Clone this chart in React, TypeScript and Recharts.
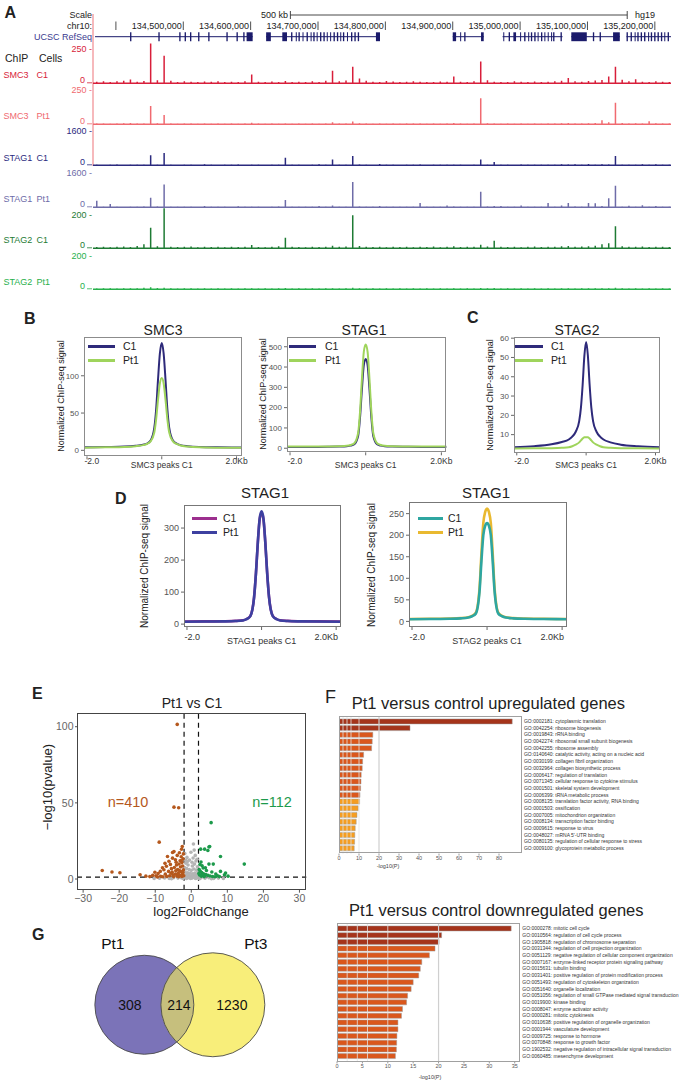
import React from "react";
import {
  BarChart,
  Bar,
  Cell,
  XAxis,
  YAxis,
  LineChart,
  Line,
  ScatterChart,
  Scatter,
  ReferenceLine,
  ReferenceArea,
} from "recharts";

const FONT = "'Liberation Sans', Arial, Helvetica, sans-serif";

// ---------- A: genome browser (chr10, kb) ----------
const chrStartKb = 134366;
const chrEndKb = 135224;
const binKb = 10;
const chrTicksKb = [134400, 134500, 134600, 134700, 134800, 134900, 135000, 135100, 135200];
const scaleBarKb = [134659, 135159];

const geneBodies = [
  [134369, 134603], [134623, 134790], [134900, 134946],
  [134974, 135063], [135076, 135148], [135158, 135224],
];
const exons = [
  [134421, 134423], [134463, 134465], [134494, 134496], [134502, 134504], [134510, 134512],
  [134522, 134524], [134537, 134539], [134564, 134566], [134579, 134581], [134589, 134591],
  [134594, 134603],
  [134623, 134630], [134647, 134654], [134660, 134662], [134667, 134668], [134671, 134673],
  [134677, 134678], [134683, 134685], [134689, 134690], [134693, 134695], [134698, 134699],
  [134703, 134705], [134708, 134710], [134713, 134714], [134718, 134719], [134723, 134725],
  [134728, 134730], [134733, 134734], [134737, 134739], [134743, 134744], [134749, 134751],
  [134754, 134756], [134759, 134761], [134786, 134792],
  [134900, 134905], [134911, 134912], [134917, 134919], [134942, 134946],
  [134975, 134976], [134983, 134985], [134990, 134994], [135000, 135001], [135006, 135008],
  [135012, 135013], [135016, 135018], [135021, 135023], [135026, 135027], [135031, 135033],
  [135036, 135037], [135041, 135042], [135046, 135047], [135049, 135051], [135060, 135062],
  [135076, 135099], [135108, 135110], [135118, 135120], [135138, 135148],
  [135158, 135160], [135164, 135166], [135170, 135171], [135174, 135176], [135179, 135181],
  [135184, 135186], [135190, 135191], [135194, 135196], [135199, 135201], [135204, 135206],
  [135209, 135211], [135214, 135215], [135219, 135221],
];

// ChIP signal per 10 kb bin
const smc3C1 = [
  12, 15, 10, 14, 18, 28, 12, 16, 289, 22, 201, 18, 10, 14, 12, 9, 13, 11, 15, 10,
  12, 9, 14, 63, 11, 9, 13, 10, 16, 9, 12, 10, 14, 9, 18, 92, 15, 20, 121, 34,
  18, 12, 10, 16, 13, 9, 11, 15, 12, 10, 9, 13, 11, 49, 12, 10, 14, 158, 22, 12,
  10, 9, 14, 11, 10, 13, 9, 12, 15, 18, 39, 14, 11, 16, 20, 24, 49, 121, 26, 14,
  30, 12, 10, 14, 11, 9,
];
const smc3Pt1 = [
  5, 6, 4, 5, 7, 9, 5, 6, 133, 8, 68, 6, 4, 5, 6, 4, 5, 4, 6, 4,
  5, 4, 6, 12, 5, 4, 5, 4, 6, 4, 5, 4, 5, 4, 6, 15, 5, 6, 20, 8,
  5, 4, 5, 4, 5, 4, 5, 6, 5, 4, 5, 4, 5, 10, 5, 4, 6, 190, 8, 5,
  4, 5, 4, 5, 4, 5, 4, 5, 6, 7, 9, 6, 5, 8, 10, 30, 14, 157, 9, 6,
  8, 6, 22, 7, 5, 6,
];
const stag1C1 = [
  20, 18, 22, 40, 18, 25, 20, 28, 470, 30, 580, 22, 18, 20, 25, 18, 45, 20, 18, 22,
  20, 35, 18, 25, 20, 18, 22, 30, 360, 25, 20, 18, 22, 50, 25, 270, 22, 28, 440, 35,
  22, 18, 60, 20, 25, 18, 22, 20, 40, 18, 22, 20, 25, 30, 20, 18, 25, 270, 30, 155,
  22, 20, 18, 40, 22, 20, 25, 30, 22, 50, 35, 55, 20, 60, 30, 45, 35, 440, 25, 20,
  22, 50, 25, 45, 20, 22,
];
const stag1Pt1 = [
  308, 20, 154, 25, 18, 30, 22, 40, 448, 35, 1073, 25, 20, 22, 30, 18, 60, 22, 20, 25,
  18, 50, 20, 28, 22, 18, 25, 40, 340, 30, 22, 20, 25, 60, 22, 90, 25, 30, 1194, 40,
  25, 20, 60, 22, 28, 20, 25, 22, 200, 20, 25, 22, 80, 40, 22, 20, 30, 728, 35, 60,
  60, 22, 20, 90, 25, 22, 30, 200, 25, 80, 200, 40, 25, 200, 187, 60, 420, 1008, 30, 70,
  25, 100, 30, 60, 22, 25,
];
const stag2C1 = [
  8, 10, 7, 9, 11, 8, 14, 24, 124, 12, 242, 10, 8, 9, 11, 7, 9, 8, 10, 7,
  9, 8, 10, 20, 8, 7, 9, 12, 64, 10, 8, 7, 9, 8, 10, 15, 9, 11, 200, 14,
  9, 8, 10, 7, 9, 8, 10, 7, 9, 8, 11, 7, 9, 12, 8, 10, 9, 22, 11, 46,
  9, 8, 10, 7, 9, 11, 8, 10, 9, 12, 14, 10, 11, 13, 15, 25, 30, 134, 12, 10,
  9, 11, 8, 10, 9, 8,
];
const stag2Pt1 = [
  5, 6, 7, 5, 6, 7, 6, 9, 12, 8, 10, 6, 5, 6, 7, 5, 6, 5, 7, 5,
  6, 5, 6, 7, 5, 6, 5, 6, 8, 5, 6, 5, 6, 5, 6, 7, 5, 6, 9, 6,
  5, 6, 5, 6, 5, 6, 5, 6, 5, 6, 5, 6, 5, 6, 5, 6, 5, 8, 6, 8,
  5, 6, 5, 6, 5, 6, 5, 6, 5, 6, 7, 5, 6, 6, 7, 6, 7, 9, 6, 5,
  6, 5, 6, 5, 6, 5,
];

const tracks = [
  { chip: "SMC3", cell: "C1", values: smc3C1, tick: 250 },
  { chip: "SMC3", cell: "Pt1", values: smc3Pt1, tick: 250 },
  { chip: "STAG1", cell: "C1", values: stag1C1, tick: 1600 },
  { chip: "STAG1", cell: "Pt1", values: stag1Pt1, tick: 1600 },
  { chip: "STAG2", cell: "C1", values: stag2C1, tick: 200 },
  { chip: "STAG2", cell: "Pt1", values: stag2Pt1, tick: 200 },
];
const trackStyle = [
  { color: "#d81e3a", max: 300, base: 83 },
  { color: "#f06a70", max: 300, base: 124.3 },
  { color: "#2b2a7e", max: 1943, base: 165.6 },
  { color: "#6e6ca8", max: 1943, base: 207 },
  { color: "#1e7b34", max: 250, base: 248.3 },
  { color: "#27b04b", max: 250, base: 289.6 },
];

// ---------- B/C/D: average profiles ----------
const profileKb = [-2.1, -1.5, -1, -0.7, -0.5, -0.4, -0.3, -0.2, -0.15, -0.1, -0.05, 0, 0.05, 0.1, 0.15, 0.2, 0.3, 0.4, 0.5, 0.7, 1, 1.5, 2.15];
const smc3ProfC1 = [4, 4.5, 5, 6, 7.5, 9, 13, 30, 55, 95, 130, 144, 130, 95, 55, 30, 13, 9, 7, 5.5, 4.5, 4, 3.8];
const smc3ProfPt1 = [3.5, 4, 4.5, 5.5, 7, 8.5, 12, 24, 42, 68, 90, 97, 90, 68, 42, 24, 12, 8.5, 6.5, 5, 4, 3.5, 3.3];
const stag1ProfC1 = [6, 6.5, 7, 8, 10, 13, 20, 60, 150, 290, 410, 440, 410, 290, 150, 60, 20, 13, 10, 8, 7, 6.5, 6];
const stag1ProfPt1 = [8, 8.5, 9, 10, 12, 16, 25, 75, 180, 340, 475, 511, 475, 340, 180, 75, 25, 16, 12, 10, 9, 8.5, 8];
const stag2ProfC1 = [3.5, 4, 5, 6.2, 7.5, 9, 11.5, 17, 24, 36, 51, 58, 51, 36, 24, 17, 11.5, 9, 7.5, 6, 4.8, 4, 3.5];
const stag2ProfPt1 = [2.8, 2.9, 3, 3.2, 3.5, 4, 4.8, 6, 7, 8, 8.6, 8.7, 8.6, 8, 7, 6, 4.8, 4, 3.5, 3.2, 3, 2.9, 2.8];
const stag1aC1 = [8, 8.5, 9, 10, 12, 16, 26, 85, 160, 255, 328, 348, 328, 255, 160, 85, 26, 16, 12, 10, 9, 8.5, 8];
const stag1aPt1 = [7.5, 8, 8.5, 9.5, 11.5, 15.5, 25, 84, 160, 256, 330, 352, 330, 256, 160, 84, 25, 15.5, 11.5, 9.5, 8.5, 8, 7.5];
const stag1bC1 = [5, 5.5, 6, 7, 9, 12, 18, 70, 140, 200, 222, 228, 222, 200, 140, 70, 18, 12, 9, 7, 6, 5.5, 5];
const stag1bPt1 = [5.5, 6, 6.5, 7.5, 9.5, 13, 20, 78, 158, 228, 254, 262, 254, 228, 158, 78, 20, 13, 9.5, 7.5, 6.5, 6, 5.5];

// ---------- E: volcano ----------
const downPts = [
  [-3.9, 101.5], [-4.8, 47.2], [-3.5, 46.8], [-8.9, 24.2], [-24.7, 5.6], [-22.0, 4.6], [-19.8, 4.1],
  [-14.2, 2.8], [-10.7, 2.4], [-8.0, 7.4], [-5.2, 17.4], [-4.8, 18.0], [-2.5, 21.4], [-2.7, 19.5],
  [-3.9, 15.5], [-6.6, 14.8], [-5.2, 13.7], [-4.4, 12.6], [-3.1, 12.0], [-2.3, 13.2], [-2.6, 10.8],
  [-3.4, 9.9], [-4.1, 9.2], [-5.8, 9.6], [-6.9, 8.4], [-7.6, 6.1], [-9.2, 3.6], [-9.8, 2.1],
  [-8.5, 1.8], [-7.2, 3.2], [-6.3, 5.0], [-5.5, 6.8], [-4.7, 7.6], [-3.8, 6.3], [-3.0, 7.9],
  [-2.4, 8.6], [-2.2, 6.0], [-2.9, 4.9], [-3.6, 4.0], [-4.4, 3.3], [-5.1, 2.7], [-6.0, 2.2],
  [-6.8, 1.7], [-7.9, 1.5], [-2.5, 3.1], [-3.2, 2.5], [-4.0, 2.0], [-4.9, 1.6], [-5.6, 3.8],
  [-2.1, 2.2], [-2.6, 1.7], [-3.5, 1.5], [-11.5, 1.6], [-12.6, 1.9], [-2.8, 14.6], [-3.3, 17.3],
  [-2.2, 16.5], [-4.2, 11.0], [-6.2, 11.7], [-7.3, 10.3], [-8.6, 5.0], [-10.1, 4.4], [-9.4, 1.4],
  [-5.3, 4.5], [-4.3, 5.4], [-3.3, 5.6], [-2.8, 11.9], [-2.3, 4.2], [-3.7, 3.0], [-2.9, 2.3],
];
const upPts = [
  [5.5, 37], [2.6, 19.6], [3.7, 19.6], [4.9, 21], [5.1, 21.4], [4.6, 18.7], [8.1, 14.8],
  [14.7, 9.8], [4.9, 9.8], [6.1, 9.8], [3.0, 8.7], [3.3, 7.2], [8.1, 5], [9.5, 3.9], [9.2, 2.8],
  [2.2, 6.3], [2.5, 5.1], [2.9, 4.2], [3.4, 3.5], [4.0, 2.9], [4.6, 2.4], [5.2, 2.0], [5.9, 1.7],
  [6.6, 1.5], [7.3, 2.2], [2.3, 2.6], [2.8, 1.8], [3.6, 1.6], [2.4, 9.5], [2.7, 11.2], [4.2, 5.6],
  [5.7, 4.6], [6.8, 3.3], [7.8, 1.6], [10.2, 1.9], [3.9, 7.4], [2.1, 3.6], [3.1, 2.8],
];
const nsPts = [
  [0.6, 23], [-1.8, 16.8], [-1.2, 14.2], [-0.5, 12.5], [0.2, 11.0], [1.1, 15.5], [1.6, 13.0],
  [-1.5, 10.4], [-0.9, 9.2], [0.3, 8.6], [0.9, 9.8], [1.7, 8.1], [-1.9, 7.5], [-1.3, 6.8],
  [-0.6, 6.2], [0.0, 5.7], [0.7, 6.6], [1.4, 5.9], [1.9, 5.1], [-1.7, 4.6], [-1.0, 4.1],
  [-0.3, 3.8], [0.4, 3.5], [1.0, 4.0], [1.6, 3.2], [-1.4, 2.8], [-0.7, 2.5], [0.1, 2.2],
  [0.8, 2.7], [1.3, 2.0], [-1.9, 1.9], [-1.1, 1.6], [-0.4, 1.4], [0.5, 1.5], [1.8, 1.7],
  [-1.6, 1.0], [-0.8, 0.8], [0.2, 0.6], [0.9, 0.9], [1.5, 0.7], [-0.2, 0.3], [-1.3, 0.4],
  [1.2, 0.3], [-2.8, 0.9], [-3.7, 0.6], [-4.9, 0.8], [-6.1, 0.4], [-7.4, 0.7], [-8.8, 0.5],
  [-10.3, 0.3], [2.7, 0.8], [3.8, 0.5], [4.9, 0.9], [6.2, 0.4], [7.5, 0.6], [8.9, 0.3],
  [-2.3, 0.3], [2.3, 0.2], [-5.5, 0.2], [5.6, 0.2], [-1.0, 11.6], [0.5, 13.8], [-0.1, 17.6],
  [1.3, 11.8], [-1.6, 12.3], [0.8, 19.0],
];
const nDown = 410;
const nUp = 112;

// ---------- F: GO enrichment ----------
const upTerms = [
  "GO:0002181: cytoplasmic translation",
  "GO:0042254: ribosome biogenesis",
  "GO:0019843: rRNA binding",
  "GO:0042274: ribosomal small subunit biogenesis",
  "GO:0042255: ribosome assembly",
  "GO:0140640: catalytic activity, acting on a nucleic acid",
  "GO:0030199: collagen fibril organization",
  "GO:0032964: collagen biosynthetic process",
  "GO:0006417: regulation of translation",
  "GO:0071345: cellular response to cytokine stimulus",
  "GO:0001501: skeletal system development",
  "GO:0006399: tRNA metabolic process",
  "GO:0008135: translation factor activity, RNA binding",
  "GO:0001503: ossification",
  "GO:0007005: mitochondrion organization",
  "GO:0008134: transcription factor binding",
  "GO:0009615: response to virus",
  "GO:0048027: mRNA 5'-UTR binding",
  "GO:0080135: regulation of cellular response to stress",
  "GO:0009100: glycoprotein metabolic process",
];
const upLogP = [86.6, 35.5, 16.9, 16.6, 16.3, 12.3, 11.8, 11.6, 11.1, 11.0, 10.8, 10.5, 10.3, 9.6, 9.0, 8.6, 8.1, 7.9, 7.8, 7.6];
const upTier = [0, 0, 1, 1, 1, 1, 1, 1, 1, 1, 1, 1, 2, 2, 2, 2, 2, 2, 2, 2];

const downTerms = [
  "GO:0000278: mitotic cell cycle",
  "GO:0010564: regulation of cell cycle process",
  "GO:1905818: regulation of chromosome separation",
  "GO:0031344: regulation of cell projection organization",
  "GO:0051129: negative regulation of cellular component organization",
  "GO:0007167: enzyme-linked receptor protein signaling pathway",
  "GO:0015631: tubulin binding",
  "GO:0031401: positive regulation of protein modification process",
  "GO:0051493: regulation of cytoskeleton organization",
  "GO:0051640: organelle localization",
  "GO:0051056: regulation of small GTPase mediated signal transduction",
  "GO:0019900: kinase binding",
  "GO:0008047: enzyme activator activity",
  "GO:0000281: mitotic cytokinesis",
  "GO:0010638: positive regulation of organelle organization",
  "GO:0001944: vasculature development",
  "GO:0009725: response to hormone",
  "GO:0070848: response to growth factor",
  "GO:1902532: negative regulation of intracellular signal transduction",
  "GO:0060485: mesenchyme development",
];
const downLogP = [34.3, 20.6, 20.1, 19.3, 18.2, 16.7, 16.4, 16.1, 15.0, 14.6, 13.9, 13.7, 12.9, 12.7, 12.0, 12.0, 11.8, 11.75, 11.7, 11.5];
const downTier = [0, 0, 0, 1, 1, 1, 1, 1, 1, 1, 1, 1, 1, 1, 1, 1, 1, 1, 1, 1];

const tierColors = ["#a5341b", "#da571c", "#f59d21"];
const goGrid = [2, 4, 6, 10, 20];

// ---------- G: Venn ----------
const vennNames = ["Pt1", "Pt3"];
const vennOnly = [308, 1230];
const vennShared = 214;

// ---------------------------------------------------------------

const T = ({ x, y, children, size = 10, color = "#222", anchor = "start", weight = 400, rotate = false }: any) => {
  const tx = anchor === "middle" ? "-50%" : anchor === "end" ? "-100%" : "0";
  return (
    <div
      style={{
        position: "absolute",
        left: x,
        top: y,
        fontSize: size,
        color,
        fontWeight: weight,
        lineHeight: 1.15,
        whiteSpace: "nowrap",
        transform: rotate ? "translate(-50%, -50%) rotate(-90deg)" : `translate(${tx}, -50%)`,
      }}
    >
      {children}
    </div>
  );
};

const trackTick = (color: string) => (p: any) => {
  const v = p.payload.value;
  if (v === 0) {
    return (
      <g>
        <text x={p.x - 7} y={p.y - 0.5} textAnchor="end" fontSize={9} fill={color}>0</text>
        <line x1={p.x - 5} x2={p.x} y1={p.y - 0.5} y2={p.y - 0.5} stroke={color} strokeWidth={0.8} />
      </g>
    );
  }
  return (
    <text x={p.x} y={p.y} dy="0.35em" textAnchor="end" fontSize={9} fill={color}>{`${v} -`}</text>
  );
};

function Track({ values, tick, style }: any) {
  const h = 41.3;
  const pad = 6;
  const rows = values.map((v: number, i: number) => ({ pos: chrStartKb + binKb * i + binKb / 2, v }));
  return (
    <div style={{ position: "absolute", left: 49, top: style.base - h, width: 622, height: h + pad }}>
      <BarChart width={622} height={h + pad} data={rows} margin={{ top: 0, right: 0, bottom: pad, left: 0 }}>
        <XAxis type="number" dataKey="pos" domain={[chrStartKb, chrEndKb]} hide allowDataOverflow />
        <YAxis
          width={44}
          domain={[0, style.max]}
          ticks={[0, tick]}
          allowDataOverflow
          axisLine={false}
          tickLine={false}
          tickSize={0}
          tickMargin={1}
          interval={0}
          tick={trackTick(style.color)}
        />
        <Bar dataKey="v" fill={style.color} barSize={1.5} isAnimationActive={false} />
        <ReferenceLine y={0} stroke={style.color} strokeWidth={1.4} />
      </BarChart>
    </div>
  );
}

const fmtBp = (kb: number) => (kb * 1000).toLocaleString("en-US");

const ChrTick = (p: any) => (
  <g>
    <line x1={p.cx} x2={p.cx} y1={p.cy - 4.5} y2={p.cy + 4} stroke="#222" strokeWidth={0.8} />
    {p.payload.kb > chrTicksKb[0] && (
      <text x={p.cx - 1.5} y={p.cy + 3} textAnchor="end" fontSize={9} fill="#222">{fmtBp(p.payload.kb)}</text>
    )}
  </g>
);

function BrowserHeader() {
  const pts = chrTicksKb.map((kb) => ({ kb, y: 26 }));
  const gene = "#1b1b6b";
  return (
    <div style={{ position: "absolute", left: 93, top: 0, width: 578, height: 45 }}>
      <ScatterChart width={578} height={45} margin={{ top: 0, right: 0, bottom: 0, left: 0 }}>
        <XAxis type="number" dataKey="kb" domain={[chrStartKb, chrEndKb]} hide allowDataOverflow />
        <YAxis type="number" dataKey="y" domain={[0, 45]} reversed hide />
        <ReferenceLine segment={[{ x: scaleBarKb[0], y: 15 }, { x: scaleBarKb[1], y: 15 }]} stroke="#333" strokeWidth={0.9} />
        <ReferenceLine segment={[{ x: scaleBarKb[0], y: 11 }, { x: scaleBarKb[0], y: 19 }]} stroke="#333" strokeWidth={0.9} />
        <ReferenceLine segment={[{ x: scaleBarKb[1], y: 11 }, { x: scaleBarKb[1], y: 19 }]} stroke="#333" strokeWidth={0.9} />
        {geneBodies.map(([a, b], i) => (
          <ReferenceLine key={`g${i}`} segment={[{ x: a, y: 36.7 }, { x: b, y: 36.7 }]} stroke={gene} strokeWidth={1} />
        ))}
        {exons.map(([a, b], i) => (
          <ReferenceArea key={`e${i}`} x1={a} x2={Math.max(b, a + 1.5)} y1={32.3} y2={41.2} fill={gene} fillOpacity={1} stroke="none" />
        ))}
        <Scatter data={pts} shape={ChrTick} isAnimationActive={false} />
      </ScatterChart>
    </div>
  );
}

function PanelA() {
  return (
    <>
      <T x={4.5} y={13} size={16} weight={700}>A</T>
      <T x={92} y={15} size={9} anchor="end">Scale</T>
      <T x={288} y={15} size={9} anchor="end">500 kb</T>
      <T x={635} y={15} size={9}>hg19</T>
      <T x={92} y={26} size={9} anchor="end">chr10:</T>
      <T x={92} y={36.7} size={9} anchor="end" color="#3b3b8f">UCSC RefSeq</T>
      <T x={5} y={58} size={10.5}>ChIP</T>
      <T x={39} y={58} size={10.5}>Cells</T>
      <div style={{ position: "absolute", left: 92, top: 14, width: 1.6, height: 152, background: "#f6b9bc" }} />
      <BrowserHeader />
      {tracks.map((t, i) => (
        <React.Fragment key={i}>
          <Track values={t.values} tick={t.tick} style={trackStyle[i]} />
          <T x={3.5} y={trackStyle[i].base - 8} size={9} color={trackStyle[i].color}>{t.chip}</T>
          <T x={36.4} y={trackStyle[i].base - 8} size={9} color={trackStyle[i].color}>{t.cell}</T>
        </React.Fragment>
      ))}
    </>
  );
}

function Profile(props: any) {
  const { box, c1, pt1, c1Color, pt1Color, domain, yTicks, yFont, xLabel, xFont, endY, midY, rightAnchor, lw, pt1First, border } = props;
  const YW = 30;
  const XH = 26;
  const RM = 24;
  const TM = 8;
  const w = box.r - box.l;
  const h = box.b - box.t;
  const rows = profileKb.map((kb, i) => ({ kb, c1: c1[i], pt1: pt1[i] }));
  const top = box.t - TM;
  const xTick = (p: any) => {
    const v = p.payload.value;
    if (v === 0) {
      return (
        <text x={p.x} y={midY - top} dominantBaseline="central" textAnchor="middle" fontSize={xFont} fill="#333">{xLabel}</text>
      );
    }
    const anchor = v < 0 ? "start" : rightAnchor;
    const x = v < 0 ? p.x - 2.5 : rightAnchor === "end" ? p.x + 2 : p.x;
    return (
      <text x={x} y={endY - top} dominantBaseline="central" textAnchor={anchor} fontSize={xFont} fill="#333">
        {v < 0 ? "-2.0" : "2.0Kb"}
      </text>
    );
  };
  const lineC1 = <Line key="c1" type="monotone" dataKey="c1" stroke={c1Color} strokeWidth={lw} dot={false} isAnimationActive={false} />;
  const linePt1 = <Line key="pt1" type="monotone" dataKey="pt1" stroke={pt1Color} strokeWidth={lw} dot={false} isAnimationActive={false} />;
  return (
    <>
      <div style={{ position: "absolute", left: box.l - YW, top, width: w + YW + RM, height: h + XH + TM }}>
        <LineChart width={w + YW + RM} height={h + XH + TM} data={rows} margin={{ top: TM, right: RM, bottom: 0, left: 0 }}>
          <XAxis
            type="number"
            dataKey="kb"
            domain={[-2.08, 2.13]}
            ticks={[-2, 0, 2]}
            allowDataOverflow
            height={XH}
            tickSize={3}
            tickMargin={2}
            axisLine={false}
            tickLine={{ stroke: "#666" }}
            interval={0}
            tick={xTick}
          />
          <YAxis
            width={YW}
            domain={domain}
            ticks={yTicks}
            allowDataOverflow
            tickSize={3}
            tickMargin={2}
            axisLine={false}
            tickLine={{ stroke: "#666" }}
            interval={0}
            tick={{ fontSize: yFont, fill: "#555" }}
          />
          {pt1First ? [linePt1, lineC1] : [lineC1, linePt1]}
        </LineChart>
      </div>
      <div
        style={{
          position: "absolute",
          left: box.l,
          top: box.t,
          width: w,
          height: h,
          border: `1px solid ${border}`,
          boxSizing: "border-box",
        }}
      />
    </>
  );
}

const LegendKey = ({ x1, x2, tx, y, color, label, size = 10.5 }: any) => (
  <>
    <div style={{ position: "absolute", left: x1, top: y - 1.5, width: x2 - x1, height: 3, background: color }} />
    <T x={tx} y={y} size={size} color="#222">{label}</T>
  </>
);

function PanelsBCD() {
  const navy = "#2e2a7a";
  const lime = "#9fd45c";
  return (
    <>
      <T x={24} y={319} size={16} weight={700}>B</T>
      <T x={467} y={318} size={16} weight={700}>C</T>
      <T x={115} y={499} size={16} weight={700}>D</T>

      <T x={163} y={330} size={14} anchor="middle">SMC3</T>
      <T x={61} y={396} size={9} rotate>Normalized ChIP-seq signal</T>
      <Profile
        box={{ l: 84.3, t: 336.7, r: 241.7, b: 456 }}
        c1={smc3ProfC1} pt1={smc3ProfPt1} c1Color={navy} pt1Color={lime}
        domain={[-8, 152]} yTicks={[0, 50, 100]} yFont={8}
        xLabel="SMC3 peaks C1" xFont={8.5} endY={461} midY={465} rightAnchor="middle" lw={2} border="#8c8c8c"
      />
      <LegendKey x1={88} x2={115} tx={123} y={346} color={navy} label="C1" />
      <LegendKey x1={88} x2={115} tx={123} y={360} color={lime} label="Pt1" />

      <T x={364} y={330} size={14} anchor="middle">STAG1</T>
      <T x={263} y={394} size={9} rotate>Normalized ChIP-seq signal</T>
      <Profile
        box={{ l: 286.7, t: 336.7, r: 446, b: 452 }}
        c1={stag1ProfC1} pt1={stag1ProfPt1} c1Color={navy} pt1Color={lime}
        domain={[-20, 548]} yTicks={[0, 100, 200, 300, 400, 500]} yFont={8}
        xLabel="SMC3 peaks C1" xFont={8.5} endY={461} midY={465} rightAnchor="middle" lw={2} border="#8c8c8c"
      />
      <LegendKey x1={289} x2={316} tx={325} y={346} color={navy} label="C1" />
      <LegendKey x1={289} x2={316} tx={325} y={360} color={lime} label="Pt1" />

      <T x={577} y={330} size={14} anchor="middle">STAG2</T>
      <T x={490} y={395} size={9} rotate>Normalized ChIP-seq signal</T>
      <Profile
        box={{ l: 514, t: 337.3, r: 660, b: 452.7 }}
        c1={stag2ProfC1} pt1={stag2ProfPt1} c1Color={navy} pt1Color={lime}
        domain={[0.8, 60.6]} yTicks={[10, 20, 30, 40, 50, 60]} yFont={8}
        xLabel="SMC3 peaks C1" xFont={8.5} endY={461.7} midY={465} rightAnchor="middle" lw={2} border="#8c8c8c"
      />
      <LegendKey x1={515} x2={543} tx={551} y={346} color={navy} label="C1" />
      <LegendKey x1={515} x2={543} tx={551} y={360} color={lime} label="Pt1" />

      <T x={265} y={493} size={15} anchor="middle">STAG1</T>
      <T x={145} y={566} size={10} rotate>Normalized ChIP-seq signal</T>
      <Profile
        box={{ l: 184, t: 505, r: 341, b: 627 }}
        c1={stag1aC1} pt1={stag1aPt1} c1Color="#9c2f8e" pt1Color="#3d40a0"
        domain={[-9, 372]} yTicks={[0, 100, 200, 300]} yFont={9}
        xLabel="STAG1 peaks C1" xFont={9} endY={637} midY={640.5} rightAnchor="end" lw={2.6} border="#777"
      />
      <LegendKey x1={192} x2={217} tx={223} y={518} color="#9c2f8e" label="C1" />
      <LegendKey x1={192} x2={217} tx={223} y={532} color="#3d40a0" label="Pt1" />

      <T x={486} y={493} size={15} anchor="middle">STAG1</T>
      <T x={372} y={565} size={10} rotate>Normalized ChIP-seq signal</T>
      <Profile
        box={{ l: 409, t: 502, r: 567, b: 627 }}
        c1={stag1bC1} pt1={stag1bPt1} c1Color="#2ea6a1" pt1Color="#e9b930"
        domain={[-13, 277]} yTicks={[0, 50, 100, 150, 200, 250]} yFont={9}
        xLabel="STAG2 peaks C1" xFont={9} endY={637} midY={641} rightAnchor="end" lw={2.6} pt1First border="#777"
      />
      <LegendKey x1={418} x2={443} tx={448} y={518} color="#2ea6a1" label="C1" />
      <LegendKey x1={418} x2={443} tx={448} y={532} color="#e9b930" label="Pt1" />
    </>
  );
}

const dotShape = (color: string) => (p: any) => <circle cx={p.cx} cy={p.cy} r={1.8} fill={color} />;
const minusFmt = (v: number) => (v < 0 ? `\u2212${Math.abs(v)}` : `${v}`);

function PanelE() {
  const box = { l: 76.7, t: 713.3, r: 306, b: 890 };
  const YW = 35;
  const XH = 22;
  const RM = 12;
  const w = box.r - box.l;
  const h = box.b - box.t;
  const toXY = (a: number[][]) => a.map(([x, y]) => ({ x, y }));
  const brown = "#b5581d";
  const green = "#1c9a4b";
  return (
    <>
      <T x={32} y={694} size={16} weight={700}>E</T>
      <T x={192} y={703} size={14} anchor="middle">Pt1 vs C1</T>
      <T x={48} y={787} size={13} rotate>{"\u2212log10(pvalue)"}</T>
      <T x={201} y={912} size={13} anchor="middle">log2FoldChange</T>
      <div style={{ position: "absolute", left: box.l - YW, top: box.t, width: w + YW + RM, height: h + XH }}>
        <ScatterChart width={w + YW + RM} height={h + XH} margin={{ top: 0, right: RM, bottom: 0, left: 0 }}>
          <XAxis
            type="number"
            dataKey="x"
            domain={[-31.7, 31.9]}
            ticks={[-30, -20, -10, 0, 10, 20, 30]}
            height={XH}
            tickSize={3}
            tickMargin={2}
            axisLine={false}
            tickLine={{ stroke: "#555" }}
            tick={{ fontSize: 10.5, fill: "#666" }}
            tickFormatter={minusFmt}
            interval={0}
          />
          <YAxis
            type="number"
            dataKey="y"
            width={YW}
            domain={[-7, 109]}
            ticks={[0, 50, 100]}
            tickSize={2}
            tickMargin={1.5}
            axisLine={false}
            tickLine={{ stroke: "#555" }}
            tick={{ fontSize: 10.5, fill: "#666" }}
            interval={0}
          />
          <Scatter data={toXY(nsPts)} shape={dotShape("#b4b4b4")} isAnimationActive={false} />
          <Scatter data={toXY(downPts)} shape={dotShape(brown)} isAnimationActive={false} />
          <Scatter data={toXY(upPts)} shape={dotShape(green)} isAnimationActive={false} />
          <ReferenceLine x={-2} stroke="#111" strokeWidth={1.2} strokeDasharray="5 4" />
          <ReferenceLine x={2} stroke="#111" strokeWidth={1.2} strokeDasharray="5 4" />
          <ReferenceLine y={1.3} stroke="#111" strokeWidth={1.2} strokeDasharray="5 4" />
        </ScatterChart>
      </div>
      <div style={{ position: "absolute", left: box.l, top: box.t, width: w, height: h, border: "1px solid #444", boxSizing: "border-box" }} />
      <T x={128} y={802} size={14.5} anchor="middle" color={brown}>{`n=${nDown}`}</T>
      <T x={272} y={802} size={14.5} anchor="middle" color={green}>{`n=${nUp}`}</T>
    </>
  );
}

function GoBars({ box, terms, values, tiers, domainMax, ticks, title, titleY, xLabelX, xLabelY }: any) {
  const YW = 172;
  const XH = 12;
  const LM = 8;
  const w = box.r - box.l;
  const h = box.b - box.t;
  const data = terms.map((term: string, i: number) => ({ term, p: values[i] }));
  const termTick = (p: any) => (
    <text x={p.x} y={p.y} dy="0.35em" textAnchor="start" fontSize={5} fill="#333">{p.payload.value}</text>
  );
  return (
    <>
      <T x={box.l + 12.4} y={titleY} size={16.5}>{title}</T>
      <div style={{ position: "absolute", left: box.l - LM, top: box.t, width: w + YW + LM, height: h + XH }}>
        <BarChart layout="vertical" width={w + YW + LM} height={h + XH} data={data} margin={{ top: 0, right: 0, bottom: 0, left: LM }} barCategoryGap="14%">
          <XAxis
            type="number"
            domain={[0, domainMax]}
            ticks={ticks}
            allowDataOverflow
            height={XH}
            tickSize={2}
            tickMargin={1}
            axisLine={false}
            tickLine={{ stroke: "#999" }}
            tick={{ fontSize: 5.5, fill: "#555" }}
            interval={0}
          />
          <YAxis
            type="category"
            dataKey="term"
            orientation="right"
            width={YW}
            axisLine={false}
            tickLine={false}
            tickSize={0}
            tickMargin={2}
            interval={0}
            tick={termTick}
            padding={{ top: 2, bottom: 2 }}
          />
          {goGrid.map((v) => (
            <ReferenceLine key={v} x={v} stroke={v === 20 ? "#cfcfcf" : "#e3e3e3"} strokeWidth={v === 20 ? 1.2 : 0.8} />
          ))}
          <Bar dataKey="p" stroke="#9a9a9a" strokeWidth={0.5} isAnimationActive={false}>
            {data.map((_: any, i: number) => (
              <Cell key={i} fill={tierColors[tiers[i]]} />
            ))}
          </Bar>
        </BarChart>
      </div>
      <div style={{ position: "absolute", left: box.l, top: box.t, width: w, height: h, border: "1px solid #a0a0a0", boxSizing: "border-box" }} />
      <T x={xLabelX} y={xLabelY} size={5.5} anchor="middle" color="#444">-log10(P)</T>
    </>
  );
}

function PanelF() {
  return (
    <>
      <T x={325} y={697} size={18}>F</T>
      <GoBars
        box={{ l: 339.3, t: 715.7, r: 522.3, b: 853.3 }}
        terms={upTerms} values={upLogP} tiers={upTier}
        domainMax={91.5} ticks={[0, 10, 20, 30, 40, 50, 60, 70, 80]}
        title="Pt1 versus control upregulated genes" titleY={703}
        xLabelX={388} xLabelY={865.5}
      />
      <GoBars
        box={{ l: 336.7, t: 923.3, r: 520, b: 1061.7 }}
        terms={downTerms} values={downLogP} tiers={downTier}
        domainMax={36.1} ticks={[0, 5, 10, 15, 20, 25, 30, 35]}
        title="Pt1 versus control downregulated genes" titleY={910}
        xLabelX={430} xLabelY={1076.5}
      />
    </>
  );
}

function PanelG() {
  const U = 49.5; // px per radius unit of the Pt1 circle
  const cxs = [0, 1.384];
  const rs = [1, 1.05];
  const fills = ["#7b73b8", "#f8ee7a"];
  const circles = vennNames.map((name, i) => ({ x: cxs[i], y: 0, r: rs[i], fill: fills[i], name }));
  const labels = [
    { x: -0.636, y: 1.242, text: vennNames[0], size: 15.5 },
    { x: 2.253, y: 1.242, text: vennNames[1], size: 15.5 },
    { x: -0.293, y: 0, text: String(vennOnly[0]), size: 14 },
    { x: 0.697, y: 0, text: String(vennShared), size: 14 },
    { x: 1.768, y: 0, text: String(vennOnly[1]), size: 14 },
  ];
  const fillShape = (p: any) => <circle cx={p.cx} cy={p.cy} r={p.payload.r * U} fill={p.payload.fill} />;
  const lineShape = (p: any) => <circle cx={p.cx} cy={p.cy} r={p.payload.r * U} fill="none" stroke="#4a4a4a" strokeWidth={0.9} />;
  const lensShape = (p: any) => (
    <g>
      <defs>
        <clipPath id="vennLens">
          <circle cx={p.cx + (cxs[1] - cxs[0]) * U} cy={p.cy} r={rs[1] * U} />
        </clipPath>
      </defs>
      <circle cx={p.cx} cy={p.cy} r={rs[0] * U} fill="#c6bf7d" clipPath="url(#vennLens)" />
    </g>
  );
  const textShape = (p: any) => (
    <text x={p.cx} y={p.cy} dominantBaseline="central" textAnchor="middle" fontSize={p.payload.size} fill="#111">
      {p.payload.text}
    </text>
  );
  const W = 4 * U;
  const H = 2.65 * U;
  return (
    <>
      <T x={32} y={935} size={16} weight={700}>G</T>
      <div style={{ position: "absolute", left: 144.5 - 1.3 * U, top: 1004.5 - 1.45 * U, width: W, height: H }}>
        <ScatterChart width={W} height={H} margin={{ top: 0, right: 0, bottom: 0, left: 0 }}>
          <XAxis type="number" dataKey="x" domain={[-1.3, 2.7]} hide />
          <YAxis type="number" dataKey="y" domain={[-1.2, 1.45]} hide />
          <Scatter data={circles} shape={fillShape} isAnimationActive={false} />
          <Scatter data={[circles[0]]} shape={lensShape} isAnimationActive={false} />
          <Scatter data={circles} shape={lineShape} isAnimationActive={false} />
          <Scatter data={labels} shape={textShape} isAnimationActive={false} />
        </ScatterChart>
      </div>
    </>
  );
}

export default function App() {
  return (
    <div
      style={{
        position: "absolute",
        left: 0,
        top: 0,
        width: 693,
        height: 1083,
        background: "#fff",
        fontFamily: FONT,
        overflow: "hidden",
      }}
    >
      <PanelA />
      <PanelsBCD />
      <PanelE />
      <PanelF />
      <PanelG />
    </div>
  );
}
